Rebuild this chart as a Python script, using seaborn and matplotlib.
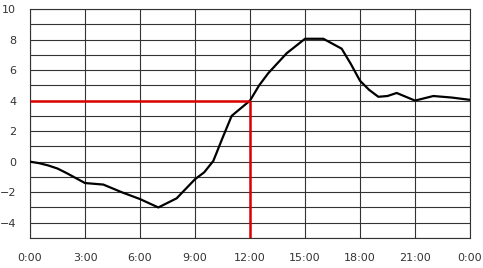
import matplotlib
matplotlib.use("Agg")
import matplotlib.pyplot as plt
import seaborn as sns
import pandas as pd

# Data
hours = [0, 0.5, 1, 1.5, 2, 3, 4, 5, 6, 7, 8, 9, 9.5, 10, 10.5, 11, 11.5, 12,
         12.5, 13, 14, 15, 16, 17, 17.5, 18, 18.5, 19, 19.5, 20, 21, 22, 23, 24]
values = [0, -0.1, -0.25, -0.45, -0.75, -1.4, -1.5, -2.0, -2.45, -3.0, -2.4, -1.15, -0.7, 0.05, 1.55, 3.0, 3.5, 4.0,
          5.0, 5.8, 7.1, 8.05, 8.05, 7.4, 6.4, 5.3, 4.7, 4.25, 4.3, 4.5, 4.0, 4.3, 4.2, 4.05]
x_ticks = [0, 3, 6, 9, 12, 15, 18, 21, 24]
x_labels = ["0:00", "3:00", "6:00", "9:00", "12:00", "15:00", "18:00", "21:00", "0:00"]
y_ticks = [-4, -2, 0, 2, 4, 6, 8, 10]
y_min, y_max = -5, 10
marker_x, marker_y = 12, 4

sns.set_style("white")
plt.rcParams["font.family"] = ["DejaVu Sans"]

fig = plt.figure(figsize=(4.83, 2.68), dpi=100)
ax = fig.add_axes([30 / 483, 1 - 238 / 268, 440 / 483, 229 / 268])

df = pd.DataFrame({"hour": hours, "value": values})
sns.lineplot(data=df, x="hour", y="value", ax=ax, color="black", linewidth=1.6, zorder=3)

ax.hlines(marker_y, x_ticks[0], marker_x, color="#dd0000", linewidth=1.8, zorder=4)
ax.vlines(marker_x, y_min, marker_y, color="#dd0000", linewidth=1.8, zorder=4)

ax.set_xlim(x_ticks[0], x_ticks[-1])
ax.set_ylim(y_min, y_max)
ax.set_xticks(x_ticks)
ax.set_xticklabels(x_labels)
ax.set_yticks(y_ticks)
ax.set_yticks(list(range(y_min, y_max + 1)), minor=True)
ax.grid(True, which="both", axis="y", color="#333333", linewidth=0.8)
ax.grid(True, which="major", axis="x", color="#333333", linewidth=0.8)
ax.tick_params(axis="both", which="both", length=0, labelsize=8, colors="#333333")
ax.tick_params(axis="x", pad=11)
ax.tick_params(axis="y", pad=10)
ax.set_xlabel("")
ax.set_ylabel("")
for s in ax.spines.values():
    s.set_color("#333333")
    s.set_linewidth(0.8)

fig.savefig("out.png", dpi=100)
